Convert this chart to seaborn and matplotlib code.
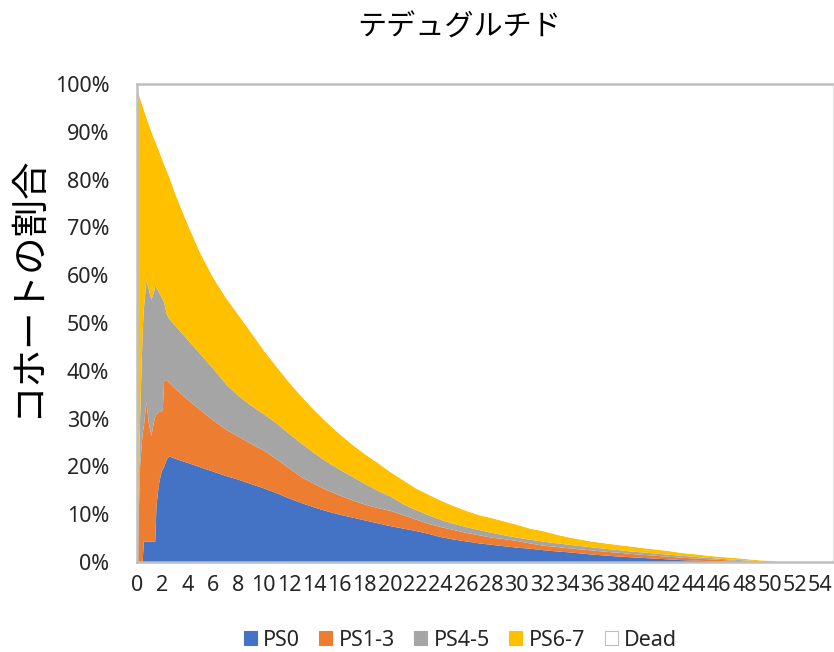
import matplotlib
matplotlib.use("Agg")
import matplotlib.pyplot as plt
from matplotlib.patches import Patch
from matplotlib.ticker import FuncFormatter, MultipleLocator
import seaborn as sns
import pandas as pd

# Time points of the cohort follow-up
time = [0, 0.2, 0.4, 0.5, 0.7, 0.9, 1.1, 1.3, 1.4, 1.5, 1.7, 1.9, 2.0, 2.1, 2.3, 2.5,
        3, 4, 5, 6, 7, 8, 9, 10, 11, 12, 13, 14, 15, 16, 17, 18, 19, 20,
        21, 22, 23, 24, 25, 26, 27, 28, 29, 30, 31, 32, 33, 34, 35, 36, 37, 38,
        39, 40, 41, 42, 43, 44, 45, 46, 47, 48, 49, 50, 51, 55]

# Share of the cohort (%) in each performance-status group
ps0 = [0, 0, 0, 4.4, 4.4, 4.4, 4.4, 4.4, 4.4, 12, 16.5, 19, 19.5, 20, 21.5, 22.2,
       21.7, 20.8, 19.9, 19.0, 18.1, 17.3, 16.4, 15.5, 14.5, 13.4, 12.4, 11.5, 10.7, 10.0, 9.4, 8.8, 8.2, 7.6,
       7.1, 6.6, 6.0, 5.3, 4.8, 4.4, 4.0, 3.7, 3.4, 3.1, 2.9, 2.6, 2.35, 2.15, 1.9, 1.65, 1.45, 1.25,
       1.1, 0.95, 0.8, 0.65, 0.5, 0.4, 0.3, 0.2, 0.1, 0, 0, 0, 0, 0]
ps1_3 = [0, 20, 27, 24.1, 29.1, 24.6, 22.1, 25.1, 26.1, 19, 15, 12.5, 12.5, 18, 16.7, 15.4,
         14.6, 13.2, 11.9, 10.7, 9.7, 9.0, 8.4, 7.9, 7.1, 6.3, 5.4, 4.9, 4.4, 4.0, 3.6, 3.3, 3.2, 3.2,
         2.8, 2.4, 2.1, 2.1, 2.0, 1.8, 1.7, 1.5, 1.5, 1.4, 1.1, 0.95, 0.95, 0.85, 0.85, 0.85, 0.8, 0.8,
         0.7, 0.65, 0.6, 0.55, 0.5, 0.45, 0.4, 0.35, 0.3, 0.25, 0, 0, 0, 0]
ps4_5 = [0, 10, 21, 24.5, 25.5, 28, 28.5, 27, 27.5, 26.5, 25, 24, 23, 16.5, 13.8, 13.4,
         13.2, 12.5, 11.7, 10.8, 9.5, 8.5, 8.0, 7.6, 7.5, 7.2, 7.0, 6.4, 5.9, 5.4, 4.9, 4.3, 3.6, 3.0,
         2.3, 2.0, 1.8, 1.5, 1.3, 1.2, 1.1, 1.0, 0.8, 0.7, 0.8, 0.85, 0.75, 0.75, 0.7, 0.65, 0.6, 0.55,
         0.5, 0.5, 0.45, 0.45, 0.4, 0.35, 0.3, 0.25, 0.2, 0.2, 0.3, 0, 0, 0]
ps6_7 = [98.7, 67.1, 47.5, 41.7, 34.1, 34.6, 35.1, 32.2, 30.1, 29.9, 29.6, 29.2, 29.0, 28.8, 30.0, 29.7,
         27.5, 24.0, 21.0, 19.0, 18.0, 16.9, 15.2, 13.3, 11.8, 10.7, 9.8, 9.0, 8.2, 7.4, 6.7, 6.2, 5.8, 5.1,
         5.0, 4.5, 4.3, 4.0, 3.7, 3.4, 3.1, 3.1, 2.9, 2.7, 2.3, 2.2, 1.85, 1.55, 1.35, 1.2, 1.15, 1.05,
         1.05, 0.9, 0.85, 0.75, 0.6, 0.55, 0.45, 0.4, 0.4, 0.3, 0.2, 0.35, 0, 0]

groups = ["PS0", "PS1-3", "PS4-5", "PS6-7", "Dead"]
colors = ["#4472C4", "#ED7D31", "#A5A5A5", "#FFC000", "#FFFFFF"]
x_ticks = list(range(0, 55, 2))

df = pd.DataFrame({"time": time, "PS0": ps0, "PS1-3": ps1_3, "PS4-5": ps4_5, "PS6-7": ps6_7})
df["Dead"] = 100 - df[["PS0", "PS1-3", "PS4-5", "PS6-7"]].sum(axis=1)

sns.set_theme(style="white")
plt.rcParams["font.family"] = ["Noto Sans", "Noto Sans CJK JP", "DejaVu Sans"]

fig = plt.figure(figsize=(8.34, 6.52), dpi=100)
ax = fig.add_axes([0.1643, 0.1380, 0.8345, 0.7332])

ax.stackplot(df["time"], [df[g] for g in groups], colors=colors, linewidth=0)

ax.set_xlim(0, 55)
ax.set_ylim(0, 100)
ax.set_xticks(x_ticks)
ax.set_xticklabels([str(t) for t in x_ticks])
ax.yaxis.set_major_locator(MultipleLocator(10))
ax.yaxis.set_major_formatter(FuncFormatter(lambda v, _: f"{int(round(v))}%"))
ax.tick_params(axis="x", length=0, pad=9, labelsize=15.5, colors="#262626")
ax.tick_params(axis="y", length=0, pad=20, labelsize=15.5, colors="#262626")

for side in ["left", "bottom", "top"]:
    ax.spines[side].set_color("#BFBFBF")
    ax.spines[side].set_linewidth(1.8)
ax.spines["right"].set_color("#E6E6E6")
ax.spines["right"].set_linewidth(1.0)

ax.set_ylabel("コホートの割合", fontsize=27, family=["Noto Sans CJK JP"], color="#000000")
ax.yaxis.set_label_coords(-0.13, 0.575)
fig.text(0.55, 0.957, "テデュグルチド", ha="center", va="center", fontsize=21,
         family=["Noto Sans CJK JP"], color="#000000")

handles = [Patch(facecolor=c, edgecolor="#BFBFBF" if g == "Dead" else c, linewidth=0.8, label=g)
           for g, c in zip(groups, colors)]
fig.legend(handles=handles, loc="center", bbox_to_anchor=(0.552, 0.018), ncol=5, frameon=False,
           fontsize=15.5, handlelength=0.6, handleheight=0.6, handletextpad=0.3, columnspacing=0.9,
           labelcolor="#262626")

fig.savefig("out.png", dpi=100)
